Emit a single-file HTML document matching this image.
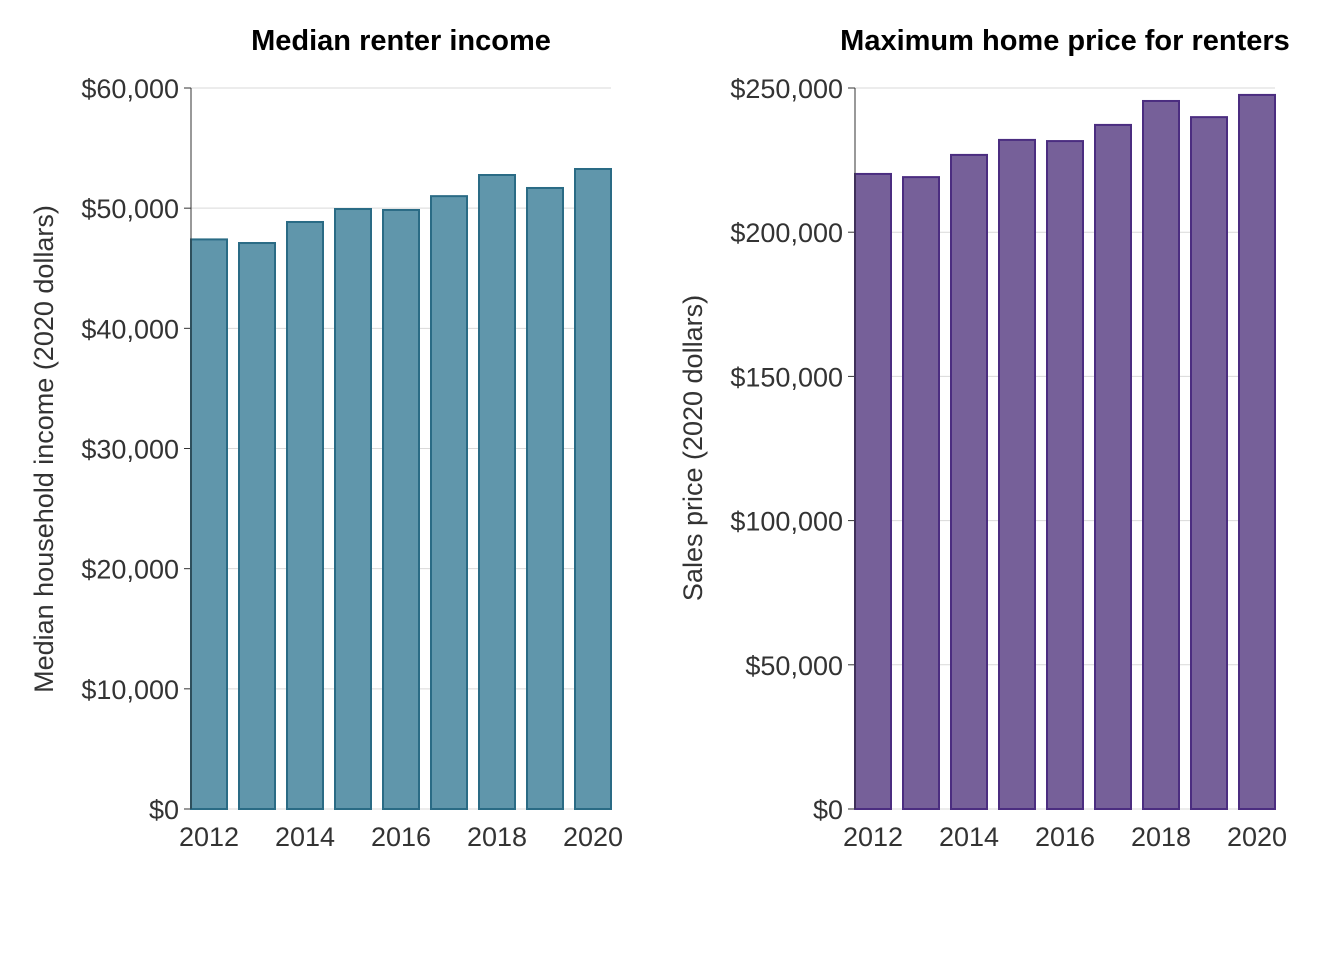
<!DOCTYPE html>
<html><head><meta charset="utf-8"><style>
body{margin:0;background:#fff;}
svg{display:block;font-family:"Liberation Sans",Arial,sans-serif;}
</style></head><body>
<svg id="c" width="1344" height="960"></svg>
<script>
const years=[2012,2013,2014,2015,2016,2017,2018,2019,2020];
const incomeValues=[47400,47100,48850,49930,49850,51000,52760,51680,53260];
const priceValues=[220200,219100,226800,232000,231600,237200,245500,239900,247600];
const incomeTicks=[0,10000,20000,30000,40000,50000,60000];
const priceTicks=[0,50000,100000,150000,200000,250000];
const xTickYears=[2012,2014,2016,2018,2020];
const NS="http://www.w3.org/2000/svg";
const svg=document.getElementById('c');
function el(t,a,p){const e=document.createElementNS(NS,t);for(const k in a)e.setAttribute(k,a[k]);(p||svg).appendChild(e);return e;}
function fmt(v){return '$'+v.toLocaleString('en-US');}
function panel(o){
  const g=el('g',{});
  
  
  const y0=809,y1=88,x0=o.x0,pitch=48,bw=36;
  const ys=v=>y0-(v/o.max)*(y0-y1);
  const xc=yr=>x0+18+(yr-2012)*pitch;
  o.ticks.forEach(t=>{
    const l=el('line',{x1:x0,x2:x0+420,y1:ys(t),y2:ys(t),stroke:'#d9d9d9','stroke-width':1},g);
    
    const tk=el('line',{x1:x0-7,x2:x0,y1:ys(t),y2:ys(t),stroke:'#333','stroke-width':1},g);
    
    const tx=el('text',{x:x0-12,y:ys(t)+10,'text-anchor':'end','font-size':27,fill:'#333'},g);
    tx.textContent=fmt(t);
    
  });
  years.forEach((yr,i)=>{
    const r=el('rect',{x:xc(yr)-bw/2,y:ys(o.vals[i]),width:bw,height:y0-ys(o.vals[i]),fill:o.fill,stroke:o.stroke,'stroke-width':2},g);
    
  });
  const ax=el('line',{x1:x0,x2:x0,y1:y1,y2:y0,stroke:'#333','stroke-width':1},g);
  
  xTickYears.forEach(yr=>{
    const t=el('text',{x:xc(yr),y:846,'text-anchor':'middle','font-size':27,fill:'#333'},g);
    t.textContent=yr;
    
  });
  const ti=el('text',{x:o.titleX,y:50,'text-anchor':'middle','font-size':29,'font-weight':'bold',fill:'#000'},g);
  ti.textContent=o.title;
  
  const yt=el('text',{x:0,y:0,transform:`translate(${o.ytX},${o.ytY}) rotate(-90)`,'text-anchor':'middle','font-size':27,fill:'#333'},g);
  yt.textContent=o.ytitle;
  
}
panel({name:'income-panel',x0:191,max:60000,ticks:incomeTicks,vals:incomeValues,fill:'#6096ab',stroke:'#2a6b85',title:'Median renter income',titleX:401,ytitle:'Median household income (2020 dollars)',ytX:53,ytY:449});
panel({name:'price-panel',x0:855,max:250000,ticks:priceTicks,vals:priceValues,fill:'#766099',stroke:'#4b2d80',title:'Maximum home price for renters',titleX:1065,ytitle:'Sales price (2020 dollars)',ytX:702,ytY:448});
</script>
</body></html>
